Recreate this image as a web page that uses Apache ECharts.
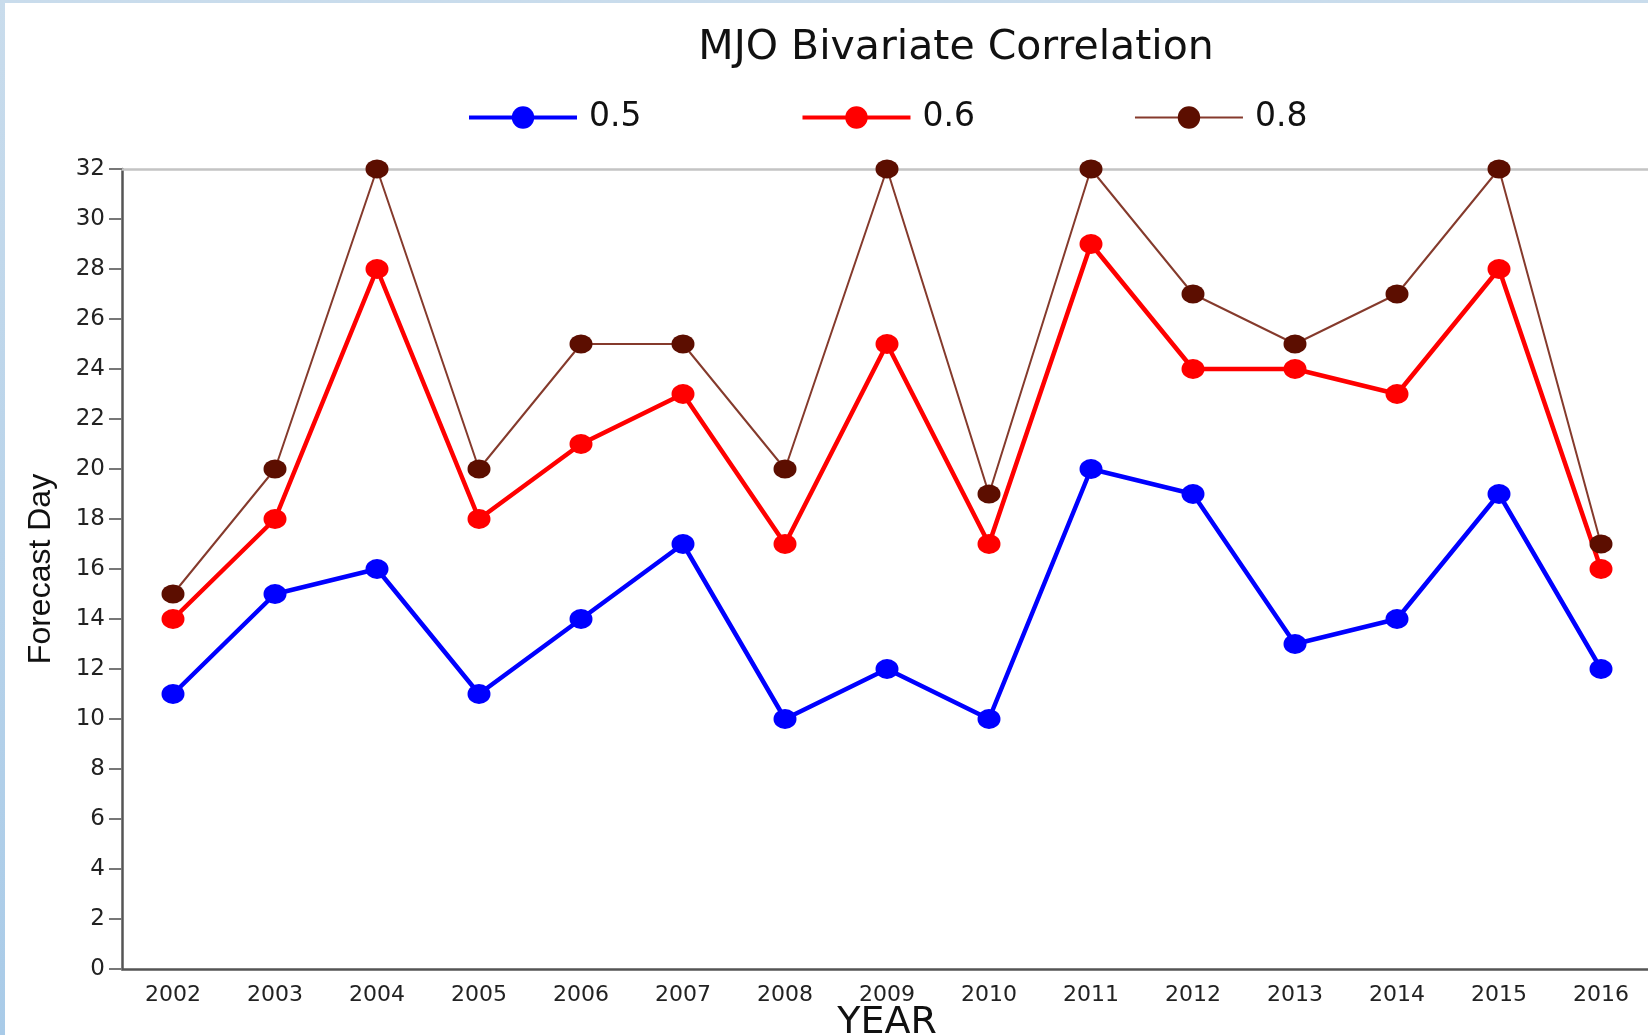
<!DOCTYPE html>
<html>
<head>
<meta charset="utf-8">
<title>MJO Bivariate Correlation</title>
<script src="https://cdn.jsdelivr.net/npm/echarts@6/dist/echarts.min.js"></script>
<style>
  html, body { margin: 0; padding: 0; overflow: hidden; }
  body {
    width: 1648px; height: 1035px;
    background: linear-gradient(180deg, #c9dcec 0%, #a9cbe8 100%);
  }
  #chart { position: absolute; left: 5px; top: 3px; width: 1647px; height: 1032px; }
</style>
</head>
<body>
<div id="chart"></div>
<script>
// years on the x axis
const years = ['2002', '2003', '2004', '2005', '2006', '2007', '2008', '2009',
  '2010', '2011', '2012', '2013', '2014', '2015', '2016'];
// forecast day for each correlation threshold
const corr05 = [11, 15, 16, 11, 14, 17, 10, 12, 10, 20, 19, 13, 14, 19, 12];
const corr06 = [14, 18, 28, 18, 21, 23, 17, 25, 17, 29, 24, 24, 23, 28, 16];
const corr08 = [15, 20, 32, 20, 25, 25, 20, 32, 19, 32, 27, 25, 27, 32, 17];

const chart = echarts.init(document.getElementById('chart'));

const option = {
  backgroundColor: '#ffffff',
  animation: false,
  graphic: [
    {
      type: 'text',
      x: 951,
      y: 45,
      style: {
        text: 'MJO Bivariate Correlation',
        font: '41px "DejaVu Sans"',
        fill: '#111',
        align: 'center',
        verticalAlign: 'middle'
      }
    }
  ],
  legend: {
    left: 457,
    top: 93,
    itemWidth: 108,
    itemHeight: 28,
    itemGap: 159,
    textStyle: {
      fontFamily: 'DejaVu Sans',
      fontSize: 33,
      color: '#111',
      padding: [0, 0, 0, 7]
    },
    data: [
      { name: '0.5', lineStyle: { width: 4 } },
      { name: '0.6', lineStyle: { width: 4 } },
      { name: '0.8', lineStyle: { width: 2 } }
    ]
  },
  grid: {
    left: 117,
    top: 166,
    right: 0,
    bottom: 66,
    outerBoundsMode: 'none'
  },
  xAxis: [
    {
      type: 'category',
      data: years,
      boundaryGap: true,
      name: 'YEAR',
      nameLocation: 'middle',
      nameGap: 35,
      nameMoveOverlap: false,
      nameTextStyle: { fontFamily: 'DejaVu Sans', fontSize: 38, color: '#111' },
      axisLine: { lineStyle: { color: '#555', width: 2.5 } },
      axisTick: { alignWithLabel: true, length: 8, lineStyle: { color: '#777', width: 2 } },
      axisLabel: { margin: 15, fontFamily: 'DejaVu Sans', fontSize: 22, color: '#222' },
      splitLine: { show: false }
    },
    {
      // light border line along the top of the plot
      type: 'category',
      data: years,
      position: 'top',
      axisLine: { lineStyle: { color: '#c4c4c4', width: 2.5 } },
      axisTick: { show: false },
      axisLabel: { show: false }
    }
  ],
  yAxis: {
    type: 'value',
    min: 0,
    max: 32,
    interval: 2,
    name: 'Forecast Day',
    nameLocation: 'middle',
    nameGap: 65,
    nameMoveOverlap: false,
    nameTextStyle: { fontFamily: 'Liberation Sans', fontSize: 32, color: '#111' },
    axisLine: { show: true, lineStyle: { color: '#555', width: 2.5 } },
    axisTick: { show: true, length: 13, lineStyle: { color: '#777', width: 2 } },
    axisLabel: { margin: 17, fontFamily: 'DejaVu Sans', fontSize: 23, color: '#222' },
    splitLine: { show: false }
  },
  series: [
    {
      name: '0.5',
      type: 'line',
      data: corr05,
      clip: false,
      symbol: 'circle',
      symbolSize: [23, 20],
      itemStyle: { color: '#0000ff' },
      lineStyle: { color: '#0000ff', width: 4.5 }
    },
    {
      name: '0.6',
      type: 'line',
      data: corr06,
      clip: false,
      symbol: 'circle',
      symbolSize: [23, 20],
      itemStyle: { color: '#ff0000' },
      lineStyle: { color: '#ff0000', width: 4.5 }
    },
    {
      name: '0.8',
      type: 'line',
      data: corr08,
      clip: false,
      symbol: 'circle',
      symbolSize: [23, 19],
      itemStyle: { color: '#5c0e00' },
      lineStyle: { color: '#853a2c', width: 2 }
    }
  ]
};

chart.setOption(option);
</script>
</body>
</html>
